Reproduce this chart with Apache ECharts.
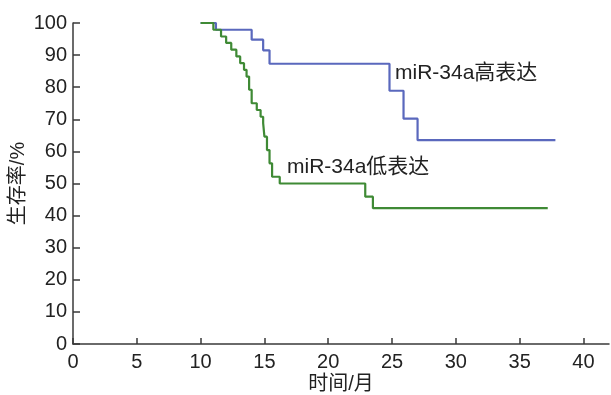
<!DOCTYPE html>
<html>
<head>
<meta charset="utf-8">
<script src="https://cdn.jsdelivr.net/npm/echarts@6/dist/echarts.min.js"></script>
<style>
html, body { margin: 0; padding: 0; background: #fff; }
#chart { width: 611px; height: 395px; }
</style>
</head>
<body>
<div id="chart"></div>
<script>
// 生存曲线数据 (时间/月, 生存率/%)
var highTime = [10, 11.2, 14.0, 14.9, 15.4, 24.8, 25.9, 27.0, 37.8];
var highRate = [100, 97.9, 94.8, 91.5, 87.3, 78.9, 70.2, 63.5, 63.5];

var lowTime = [10, 11.0, 11.6, 12.0, 12.4, 12.8, 13.1, 13.4, 13.6, 13.8, 14.0, 14.4, 14.7, 14.9, 15.0, 15.2, 15.4, 15.6, 16.2, 22.9, 23.5, 37.2];
var lowRate = [100, 97.9, 95.8, 93.8, 91.7, 89.6, 87.5, 85.4, 83.3, 79.2, 75.0, 72.9, 70.8, 68.8, 64.6, 60.4, 56.3, 52.1, 50.0, 45.9, 42.3, 42.3];

var xTicks = [0, 5, 10, 15, 20, 25, 30, 35, 40];
var highName = 'miR-34a高表达';
var lowName = 'miR-34a低表达';

function pairs(xs, ys) {
    var out = [];
    for (var i = 0; i < xs.length; i++) out.push([xs[i], ys[i]]);
    return out;
}

var font = '"Liberation Sans", Arial, "Noto Sans CJK SC", sans-serif';
var axisColor = '#3a3a3a';

var myChart = echarts.init(document.getElementById('chart'));
var option = {
    animation: false,
    textStyle: { fontFamily: font },
    grid: { left: 73, right: 2, top: 23, bottom: 51, containLabel: false, outerBoundsMode: 'none' },
    xAxis: {
        type: 'value',
        min: 0,
        max: 42,
        name: '时间/月',
        nameLocation: 'middle',
        nameGap: 30,
        nameMoveOverlap: false,
        nameTextStyle: { fontSize: 20, color: '#222', fontFamily: font },
        axisLine: { lineStyle: { color: axisColor, width: 1.5 } },
        axisTick: { show: true, inside: true, length: 6, customValues: xTicks, lineStyle: { color: axisColor, width: 1.5 } },
        axisLabel: { customValues: xTicks, fontSize: 20, color: '#222', margin: 8 },
        splitLine: { show: false }
    },
    yAxis: {
        type: 'value',
        min: 0,
        max: 100,
        interval: 10,
        name: '生存率/%',
        nameLocation: 'middle',
        nameGap: 45,
        nameMoveOverlap: false,
        nameTextStyle: { fontSize: 20, color: '#222', fontFamily: font },
        axisLine: { show: true, lineStyle: { color: axisColor, width: 1.5 } },
        axisTick: { show: true, inside: true, length: 7, lineStyle: { color: axisColor, width: 1.5 } },
        axisLabel: { fontSize: 20, color: '#222', margin: 6 },
        splitLine: { show: false }
    },
    series: [
        {
            name: highName,
            type: 'line',
            step: 'end',
            symbol: 'none',
            data: pairs(highTime, highRate),
            lineStyle: { color: '#5a68bd', width: 2.2 },
            z: 2
        },
        {
            name: lowName,
            type: 'line',
            step: 'end',
            symbol: 'none',
            data: pairs(lowTime, lowRate),
            lineStyle: { color: '#3f8a35', width: 2.2 },
            z: 3
        }
    ],
    graphic: [
        {
            type: 'text', left: 395, top: 63,
            style: { text: highName, fill: '#222', font: '21px ' + font }
        },
        {
            type: 'text', left: 287, top: 157,
            style: { text: lowName, fill: '#222', font: '21px ' + font }
        }
    ]
};
myChart.setOption(option);
</script>
</body>
</html>
